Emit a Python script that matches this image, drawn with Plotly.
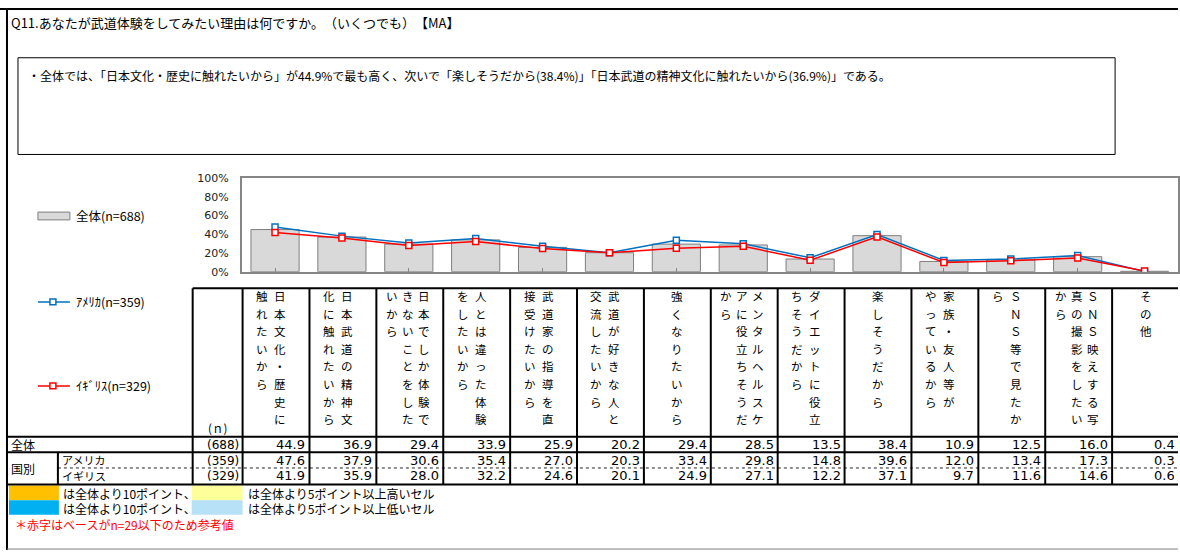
import plotly.graph_objects as go

W, H = 1180, 558

# ---------------- data ----------------
categories = [
    "日本文化・歴史に触れたいから",
    "日本武道の精神文化に触れたいから",
    "日本でしか体験できないことをしたいから",
    "人とは違った体験をしたいから",
    "武道家の指導を直接受けたいから",
    "武道が好きな人と交流したいから",
    "強くなりたいから",
    "メンタルヘルスケアに役立ちそうだから",
    "ダイエットに役立ちそうだから",
    "楽しそうだから",
    "家族・友人等が\nやっているから",
    "ＳＮＳ等で見たから",
    "ＳＮＳ映えする写真の撮影をしたいから",
    "その他",
]
total = [44.9, 36.9, 29.4, 33.9, 25.9, 20.2, 29.4, 28.5, 13.5, 38.4, 10.9, 12.5, 16.0, 0.4]
america = [47.6, 37.9, 30.6, 35.4, 27.0, 20.3, 33.4, 29.8, 14.8, 39.6, 12.0, 13.4, 17.3, 0.3]
uk = [41.9, 35.9, 28.0, 32.2, 24.6, 20.1, 24.9, 27.1, 12.2, 37.1, 9.7, 11.6, 14.6, 0.6]
series_names = ["全体(n=688)", "ｱﾒﾘｶ(n=359)", "ｲｷﾞﾘｽ(n=329)"]
row_labels = ["全体", "アメリカ", "イギリス"]
group_label = "国別"
row_n = [688, 359, 329]
y_ticks = [0, 20, 40, 60, 80, 100]

title_text = "Q11.あなたが武道体験をしてみたい理由は何ですか。　（いくつでも）　【MA】"
summary_text = ("・全体では、「日本文化・歴史に触れたいから」が44.9%で最も高く、次いで「楽しそうだから(38.4%)」"
                "「日本武道の精神文化に触れたいから(36.9%)」である。")
legend_notes = [
    ("#FFC000", "は全体より10ポイント、", "#FFFF99", "は全体より5ポイント以上高いセル"),
    ("#00B0F0", "は全体より10ポイント、", "#B7E1F7", "は全体より5ポイント以上低いセル"),
]
footnote = "＊赤字はベースがn=29以下のため参考値"

# ---------------- styling ----------------
JP = "'Noto Sans CJK JP', 'Noto Sans', sans-serif"
NUM = "'DejaVu Sans', 'Noto Sans CJK JP', sans-serif"
BLUE = "#0070C0"
RED = "#FF0000"
GRAY_LINE = "#868686"

PLOT_X0, PLOT_X1 = 242, 1180
PLOT_Y0, PLOT_Y1 = 176, 272
n_cat = len(categories)
col_w = (PLOT_X1 - PLOT_X0) / n_cat
bounds = [PLOT_X0 + 1 + i * col_w for i in range(n_cat + 1)]


def X(px):
    return px / W


def Y(py):
    return 1 - py / H


annotations = []
shapes = []


def text(px, py, s, size=12, color="black", xanchor="left", family=JP, height=None):
    a = dict(
        x=X(px), y=Y(py), xref="paper", yref="paper", text=s, showarrow=False,
        xanchor=xanchor, yanchor="middle", borderpad=0,
        font=dict(size=size, color=color, family=family))
    if height:
        a["height"] = height
    annotations.append(a)


def line(x0, y0, x1, y1, width=2, color="black", dash=None):
    ln = dict(color=color, width=width)
    if dash:
        ln["dash"] = dash
    shapes.append(dict(type="line", xref="paper", yref="paper",
                       x0=X(x0), y0=Y(y0), x1=X(x1), y1=Y(y1), line=ln))


def rect(x0, y0, x1, y1, fill=None, color=None, width=1, layer=None):
    shapes.append(dict(type="rect", xref="paper", yref="paper",
                       x0=X(x0), y0=Y(y0), x1=X(x1), y1=Y(y1),
                       fillcolor=fill if fill else "rgba(0,0,0,0)",
                       line=dict(color=color if color else "rgba(0,0,0,0)", width=width),
                       layer=layer or ("below" if fill else "above")))


fig = go.Figure()
fig.add_trace(go.Bar(
    x=list(range(n_cat)), y=total, name=series_names[0],
    marker=dict(color="#D9D9D9", line=dict(color="#7F7F7F", width=1)),
))
fig.add_trace(go.Scatter(
    x=list(range(n_cat)), y=america, name=series_names[1], mode="lines+markers",
    line=dict(color=BLUE, width=1.5),
    marker=dict(symbol="square", size=6, color="white", line=dict(color=BLUE, width=1.5)),
))
fig.add_trace(go.Scatter(
    x=list(range(n_cat)), y=uk, name=series_names[2], mode="lines+markers",
    line=dict(color=RED, width=1.5),
    marker=dict(symbol="square", size=6, color="white", line=dict(color=RED, width=1.5)),
))

# ---------------- frame / title / summary ----------------
line(7, 2, 7, 557, width=2)
line(0, 3, W, 3, width=2)
line(7, 556, W, 556, width=1, color="#7F7F7F")
text(10, 17, title_text, size=13)
rect(18, 53, 1117, 152, color="black", width=1)
text(27, 71, summary_text, size=12)

# ---------------- custom legend ----------------
rect(38, 211, 70, 219, fill="#D9D9D9", color="#7F7F7F", width=1)
text(75, 215, series_names[0], size=12.5)
for py, col, name in [(303, BLUE, series_names[1]), (389, RED, series_names[2])]:
    line(38, py, 70, py, width=1.5, color=col)
    rect(50, py - 3, 56, py + 3, fill="white", color=col, width=1.5, layer="above")
    text(75, py, name, size=12.5)

# ---------------- table ----------------
HEAD_TOP, HEAD_BOT = 289, 441
ROW_B = [457, 473, 490]
line(193, HEAD_TOP, W, HEAD_TOP, width=2)
line(7, HEAD_BOT, W, HEAD_BOT, width=2)
line(7, ROW_B[0], W, ROW_B[0], width=2)
line(58, ROW_B[1], W, ROW_B[1], width=1, color="#222222", dash="dot")
line(7, ROW_B[2], W, ROW_B[2], width=2)
line(193, HEAD_TOP, 193, ROW_B[2], width=2)
line(58, ROW_B[0], 58, ROW_B[2], width=2)
for b in bounds[:-1]:
    line(b, HEAD_TOP, b, ROW_B[2], width=2)

text(218, 432, "(ｎ)", size=11.5, xanchor="center")


def vertical_columns(label, per_col=8):
    cols = []
    for part in label.split("\n"):
        for i in range(0, len(part), per_col):
            cols.append(part[i:i + per_col])
    return cols


block_shift = {1: 0, 2: -5, 3: -2}
for i, cat in enumerate(categories):
    cols = vertical_columns(cat)
    m = len(cols)
    cx = (bounds[i] + bounds[i + 1]) / 2 + block_shift.get(m, 0)
    step = 18 if m == 2 else 16
    for j, col in enumerate(cols):
        xx = cx + ((m - 1) / 2 - j) * step
        for k, ch in enumerate(col):
            text(xx, 297 + 18 * k, ch, size=11.5, xanchor="center")

row_cy = [449, 465, 481]
text(10, row_cy[0], row_labels[0], size=12, height=15)
text(10, (ROW_B[0] + ROW_B[2]) / 2, group_label, size=12, height=15)
text(61, row_cy[1], row_labels[1], size=11, height=14)
text(61, row_cy[2], row_labels[2], size=11, height=14)
for r, (nn, vals) in enumerate(zip(row_n, [total, america, uk])):
    text(240, row_cy[r], f"({nn})", size=12, xanchor="right", family=NUM, height=15)
    for i, v in enumerate(vals):
        text(bounds[i + 1] - 3, row_cy[r], f"{v:.1f}", size=13, xanchor="right", family=NUM, height=15)

# ---------------- colour notes ----------------
for r, (c1, t1, c2, t2) in enumerate(legend_notes):
    y0 = 491 + r * 15
    rect(9, y0, 59, y0 + 15, fill=c1)
    text(62, y0 + 7.5, t1, size=12, height=14)
    rect(192, y0, 243, y0 + 15, fill=c2)
    text(247, y0 + 7.5, t2, size=12, height=14)
text(14, 530, footnote, size=12, color=RED, height=14)

fig.update_layout(
    width=W, height=H, margin=dict(l=0, r=0, t=0, b=0),
    paper_bgcolor="white", plot_bgcolor="white",
    showlegend=False, bargap=0.28,
    annotations=annotations, shapes=shapes,
    font=dict(family=NUM, size=12, color="#222222"),
    xaxis=dict(domain=[X(PLOT_X0), X(PLOT_X1)], range=[-0.5, n_cat - 0.5],
               showticklabels=False, showline=True, linecolor=GRAY_LINE, linewidth=1.5,
               mirror=True, ticks="inside", ticklen=4, tickcolor=GRAY_LINE,
               tickson="boundaries", showgrid=False, zeroline=False, fixedrange=True),
    yaxis=dict(domain=[Y(PLOT_Y1), Y(PLOT_Y0)], range=[0, 100],
               tickvals=y_ticks, ticktext=[f"{v}%" for v in y_ticks],
               showline=True, linecolor=GRAY_LINE, linewidth=1.5, mirror=True,
               ticks="", showgrid=False, zeroline=False, ticklabelstandoff=9,
               tickfont=dict(size=11, family=NUM, color="#222222"), fixedrange=True),
)

fig.write_html("out.html")
